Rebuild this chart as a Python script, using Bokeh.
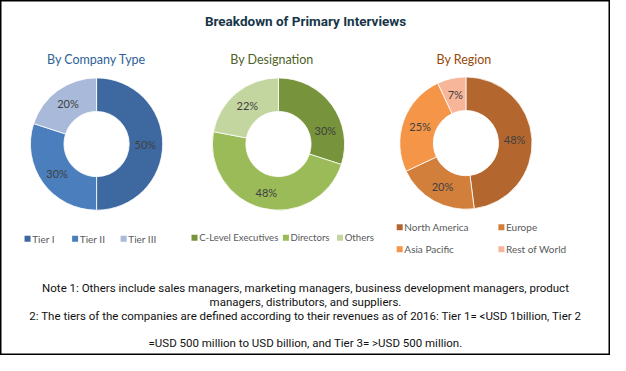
import math
from bokeh.plotting import figure
from bokeh.models import Range1d, ColumnDataSource
from bokeh.core.properties import value
from bokeh.embed import file_html
from bokeh.resources import INLINE

# ---- data ----
company_labels = ["Tier I", "Tier II", "Tier III"]
company_values = [50, 30, 20]
designation_labels = ["C-Level Executives", "Directors", "Others"]
designation_values = [30, 48, 22]
region_labels = ["North America", "Europe", "Asia Pacific", "Rest of World"]
region_values = [48, 20, 25, 7]

title_text = "Breakdown of Primary Interviews"
subtitles = ["By Company Type", "By Designation", "By Region"]
notes = [
    "Note 1: Others include sales managers, marketing managers, business development managers, product",
    "managers, distributors, and suppliers.",
    "2: The tiers of the companies are defined according to their revenues as of 2016: Tier 1= <USD 1billion, Tier 2",
    "=USD 500 million to USD billion, and Tier 3= >USD 500 million.",
]

# ---- styles ----
company_colors = ["#3d69a0", "#4a7ebc", "#a8b9d9"]
designation_colors = ["#77933c", "#9bbb59", "#c4d6a0"]
region_colors = ["#b3672f", "#d27f3c", "#f59548", "#f7b69a"]

W, H = 610, 355
RW, RH = 654, 371
sc = (W / RW + H / RH) / 2

p = figure(width=W, height=H, output_backend="svg", toolbar_location=None,
           x_range=Range1d(0, RW), y_range=Range1d(RH, 0), min_border=0)
p.axis.visible = False
p.grid.visible = False
p.outline_line_color = "black"
p.outline_line_width = 2
p.background_fill_color = "white"

FONT = value("Lato")
NARROW = value("Roboto")

p.text(x=[327], y=[21], text=[title_text], text_font=NARROW, text_font_style="bold",
       text_font_size="13.5px", text_color="#17364a", text_align="center", text_baseline="middle")

sub_x = [103, 291, 497]
sub_colors = ["#2f5f98", "#4f6228", "#984807"]
for sx, st, scol in zip(sub_x, subtitles, sub_colors):
    p.text(x=[sx], y=[62], text=[st], text_font=FONT, text_font_size="12.5px",
           text_color=scol, text_align="center", text_baseline="middle")

R_OUT = 70 * sc
R_IN = 34.5 * sc
R_LAB = (70 + 34.5) / 2


def donut(cx, cy, values, colors, nudge=None):
    total = float(sum(values))
    cum = 0.0
    starts, ends, lx, ly, labs = [], [], [], [], []
    for i, v in enumerate(values):
        a0 = 90 - (cum + v) / total * 360
        a1 = 90 - cum / total * 360
        starts.append(math.radians(a0))
        ends.append(math.radians(a1))
        mid = (a0 + a1) / 2
        if nudge and i in nudge:
            mid += nudge[i]
        mid = math.radians(mid)
        lx.append(cx + R_LAB * math.cos(mid))
        ly.append(cy - R_LAB * math.sin(mid))
        labs.append(f"{v}%")
        cum += v
    src = ColumnDataSource(dict(x=[cx] * len(values), y=[cy] * len(values),
                                start=starts, end=ends, color=colors))
    p.annular_wedge(x="x", y="y", inner_radius=R_IN, outer_radius=R_OUT,
                    inner_radius_units="screen", outer_radius_units="screen",
                    start_angle="start", end_angle="end", fill_color="color",
                    line_color="white", line_width=0.8, source=src)
    p.text(x=lx, y=ly, text=labs, text_font=FONT, text_font_size="11px",
           text_color="#404040", text_align="center", text_baseline="middle")


donut(103, 150, company_values, company_colors)
donut(298, 150, designation_values, designation_colors, nudge={0: -20})
donut(499, 149, region_values, region_colors)


def legend(xs, ys, labels, colors, fs="10px"):
    p.scatter(x=[x for x in xs], y=ys, marker="square", size=6, fill_color=colors,
              line_color=None)
    p.text(x=[x + 5 for x in xs], y=ys, text=labels, text_font=FONT, text_font_size=fs,
           text_color="#595959", text_align="left", text_baseline="middle")


legend([29, 80, 132], [249] * 3, company_labels, company_colors)
legend([208, 306, 364], [248] * 3, designation_labels, designation_colors, fs="9.6px")
legend([428, 537, 428, 537], [237, 237, 260, 260], region_labels, region_colors)

note_y = [300, 315, 330, 358]
p.text(x=[327] * 4, y=note_y, text=notes, text_font=NARROW, text_font_size="11.5px",
       text_color="#111111", text_align="center", text_baseline="middle")

open("out.html", "w").write(file_html(p, INLINE))
